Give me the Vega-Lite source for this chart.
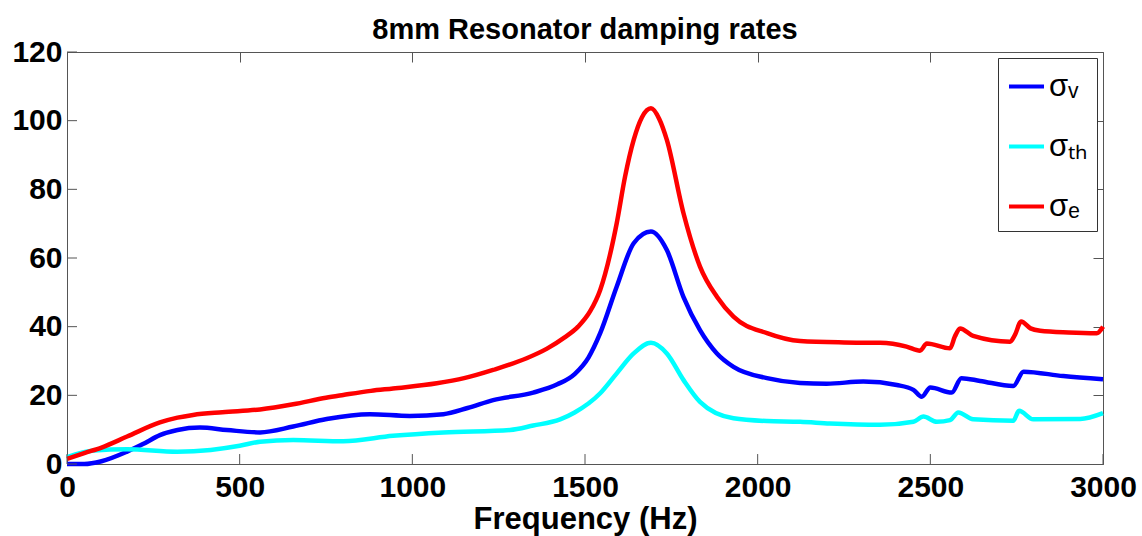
{
  "$schema": "https://vega.github.io/schema/vega-lite/v6.json",
  "width": 1036,
  "height": 412,
  "autosize": {"type": "none"},
  "padding": {"left": 67, "top": 52, "right": 39, "bottom": 72},
  "background": "white",
  "title": {"text": "8mm Resonator damping rates", "fontSize": 29, "font": "Liberation Sans", "fontWeight": "bold", "color": "black", "offset": -8, "anchor": "middle", "frame": "group"},
  "config": {
    "view": {"stroke": "#555", "strokeWidth": 1},
    "axis": {"labelFont": "Liberation Sans", "labelFontWeight": "bold", "labelFontSize": 30, "labelColor": "black", "titleFont": "Liberation Sans", "titleFontWeight": "bold", "titleFontSize": 31, "titleColor": "black", "domainColor": "#555", "tickColor": "#555", "tickWidth": 1, "grid": false}
  },
  "datasets": {
    "curves": [
    {"f": 0, "s": "σᵥ", "v": 0}, {"f": 50, "s": "σᵥ", "v": 0}, {"f": 100, "s": "σᵥ", "v": 0.8}, {"f": 174, "s": "σᵥ", "v": 3.6}, {"f": 220, "s": "σᵥ", "v": 5.8}, {"f": 269, "s": "σᵥ", "v": 8.4}, {"f": 320, "s": "σᵥ", "v": 9.9}, {"f": 385, "s": "σᵥ", "v": 10.6}, {"f": 463, "s": "σᵥ", "v": 9.9}, {"f": 559, "s": "σᵥ", "v": 9.2}, {"f": 655, "s": "σᵥ", "v": 10.9}, {"f": 752, "s": "σᵥ", "v": 13.1}, {"f": 877, "s": "σᵥ", "v": 14.5}, {"f": 993, "s": "σᵥ", "v": 14.0}, {"f": 1090, "s": "σᵥ", "v": 14.5}, {"f": 1160, "s": "σᵥ", "v": 16.3}, {"f": 1234, "s": "σᵥ", "v": 18.6}, {"f": 1350, "s": "σᵥ", "v": 20.8}, {"f": 1420, "s": "σᵥ", "v": 23.2}, {"f": 1470, "s": "σᵥ", "v": 26.2}, {"f": 1510, "s": "σᵥ", "v": 31.0}, {"f": 1544, "s": "σᵥ", "v": 38.1}, {"f": 1592, "s": "σᵥ", "v": 51.7}, {"f": 1641, "s": "σᵥ", "v": 64.3}, {"f": 1691, "s": "σᵥ", "v": 67.7}, {"f": 1737, "s": "σᵥ", "v": 62.3}, {"f": 1785, "s": "σᵥ", "v": 48.7}, {"f": 1833, "s": "σᵥ", "v": 39.0}, {"f": 1882, "s": "σᵥ", "v": 32.2}, {"f": 1930, "s": "σᵥ", "v": 28.3}, {"f": 2027, "s": "σᵥ", "v": 25.0}, {"f": 2123, "s": "σᵥ", "v": 23.6}, {"f": 2200, "s": "σᵥ", "v": 23.4}, {"f": 2306, "s": "σᵥ", "v": 24.0}, {"f": 2403, "s": "σᵥ", "v": 23.0}, {"f": 2451, "s": "σᵥ", "v": 21.6}, {"f": 2475, "s": "σᵥ", "v": 19.6}, {"f": 2500, "s": "σᵥ", "v": 22.3}, {"f": 2562, "s": "σᵥ", "v": 20.8}, {"f": 2590, "s": "σᵥ", "v": 25.0}, {"f": 2644, "s": "σᵥ", "v": 24.2}, {"f": 2740, "s": "σᵥ", "v": 22.7}, {"f": 2770, "s": "σᵥ", "v": 26.9}, {"f": 2885, "s": "σᵥ", "v": 25.6}, {"f": 3000, "s": "σᵥ", "v": 24.7},
    {"f": 0, "s": "σₜₕ", "v": 2.0}, {"f": 77, "s": "σₜₕ", "v": 3.9}, {"f": 174, "s": "σₜₕ", "v": 4.3}, {"f": 319, "s": "σₜₕ", "v": 3.6}, {"f": 416, "s": "σₜₕ", "v": 4.1}, {"f": 500, "s": "σₜₕ", "v": 5.3}, {"f": 559, "s": "σₜₕ", "v": 6.5}, {"f": 655, "s": "σₜₕ", "v": 7.0}, {"f": 800, "s": "σₜₕ", "v": 6.6}, {"f": 944, "s": "σₜₕ", "v": 8.2}, {"f": 1090, "s": "σₜₕ", "v": 9.2}, {"f": 1283, "s": "σₜₕ", "v": 9.9}, {"f": 1350, "s": "σₜₕ", "v": 11.2}, {"f": 1428, "s": "σₜₕ", "v": 13.0}, {"f": 1470, "s": "σₜₕ", "v": 15.0}, {"f": 1544, "s": "σₜₕ", "v": 20.6}, {"f": 1592, "s": "σₜₕ", "v": 26.4}, {"f": 1641, "s": "σₜₕ", "v": 32.2}, {"f": 1691, "s": "σₜₕ", "v": 35.3}, {"f": 1737, "s": "σₜₕ", "v": 32.2}, {"f": 1785, "s": "σₜₕ", "v": 24.5}, {"f": 1833, "s": "σₜₕ", "v": 18.1}, {"f": 1930, "s": "σₜₕ", "v": 13.3}, {"f": 2027, "s": "σₜₕ", "v": 12.5}, {"f": 2123, "s": "σₜₕ", "v": 12.3}, {"f": 2209, "s": "σₜₕ", "v": 11.8}, {"f": 2354, "s": "σₜₕ", "v": 11.4}, {"f": 2451, "s": "σₜₕ", "v": 12.3}, {"f": 2480, "s": "σₜₕ", "v": 13.8}, {"f": 2519, "s": "σₜₕ", "v": 12.3}, {"f": 2557, "s": "σₜₕ", "v": 12.8}, {"f": 2581, "s": "σₜₕ", "v": 15.0}, {"f": 2624, "s": "σₜₕ", "v": 13.0}, {"f": 2740, "s": "σₜₕ", "v": 12.6}, {"f": 2757, "s": "σₜₕ", "v": 15.5}, {"f": 2798, "s": "σₜₕ", "v": 13.0}, {"f": 2934, "s": "σₜₕ", "v": 13.1}, {"f": 3000, "s": "σₜₕ", "v": 14.8},
    {"f": 0, "s": "σₑ", "v": 1.5}, {"f": 50, "s": "σₑ", "v": 3.2}, {"f": 100, "s": "σₑ", "v": 4.8}, {"f": 174, "s": "σₑ", "v": 8.0}, {"f": 269, "s": "σₑ", "v": 12.1}, {"f": 320, "s": "σₑ", "v": 13.5}, {"f": 365, "s": "σₑ", "v": 14.3}, {"f": 450, "s": "σₑ", "v": 15.1}, {"f": 559, "s": "σₑ", "v": 15.9}, {"f": 655, "s": "σₑ", "v": 17.4}, {"f": 750, "s": "σₑ", "v": 19.3}, {"f": 800, "s": "σₑ", "v": 20.1}, {"f": 880, "s": "σₑ", "v": 21.3}, {"f": 944, "s": "σₑ", "v": 22.0}, {"f": 1071, "s": "σₑ", "v": 23.5}, {"f": 1150, "s": "σₑ", "v": 25.0}, {"f": 1234, "s": "σₑ", "v": 27.4}, {"f": 1331, "s": "σₑ", "v": 30.8}, {"f": 1390, "s": "σₑ", "v": 33.6}, {"f": 1440, "s": "σₑ", "v": 36.8}, {"f": 1480, "s": "σₑ", "v": 40.0}, {"f": 1515, "s": "σₑ", "v": 44.5}, {"f": 1544, "s": "σₑ", "v": 50.7}, {"f": 1592, "s": "σₑ", "v": 70.2}, {"f": 1616, "s": "σₑ", "v": 83.7}, {"f": 1641, "s": "σₑ", "v": 94.4}, {"f": 1665, "s": "σₑ", "v": 101.0}, {"f": 1691, "s": "σₑ", "v": 103.6}, {"f": 1715, "s": "σₑ", "v": 100.5}, {"f": 1737, "s": "σₑ", "v": 94.4}, {"f": 1785, "s": "σₑ", "v": 73.1}, {"f": 1833, "s": "σₑ", "v": 57.5}, {"f": 1882, "s": "σₑ", "v": 48.7}, {"f": 1930, "s": "σₑ", "v": 42.9}, {"f": 2027, "s": "σₑ", "v": 38.1}, {"f": 2123, "s": "σₑ", "v": 35.8}, {"f": 2250, "s": "σₑ", "v": 35.4}, {"f": 2354, "s": "σₑ", "v": 35.3}, {"f": 2431, "s": "σₑ", "v": 34.2}, {"f": 2470, "s": "σₑ", "v": 33.0}, {"f": 2490, "s": "σₑ", "v": 35.1}, {"f": 2557, "s": "σₑ", "v": 33.7}, {"f": 2571, "s": "σₑ", "v": 37.1}, {"f": 2586, "s": "σₑ", "v": 39.5}, {"f": 2624, "s": "σₑ", "v": 37.3}, {"f": 2731, "s": "σₑ", "v": 35.6}, {"f": 2745, "s": "σₑ", "v": 37.6}, {"f": 2763, "s": "σₑ", "v": 41.5}, {"f": 2790, "s": "σₑ", "v": 39.5}, {"f": 2818, "s": "σₑ", "v": 38.8}, {"f": 2900, "s": "σₑ", "v": 38.3}, {"f": 2982, "s": "σₑ", "v": 38.1}, {"f": 3000, "s": "σₑ", "v": 40.0}
    ],
    "xticks": [{"t": 0}, {"t": 500}, {"t": 1000}, {"t": 1500}, {"t": 2000}, {"t": 2500}, {"t": 3000}],
    "yticks": [{"t": 0}, {"t": 20}, {"t": 40}, {"t": 60}, {"t": 80}, {"t": 100}, {"t": 120}]
  },
  "layer": [
    {
      "data": {"name": "curves"},
      "mark": {"type": "line", "strokeWidth": 4.5, "interpolate": "monotone"},
      "encoding": {
        "x": {"field": "f", "type": "quantitative", "scale": {"domain": [0, 3000], "nice": false}, "axis": {"orient": "bottom", "values": [0, 500, 1000, 1500, 2000, 2500, 3000], "format": "d", "title": "Frequency (Hz)", "ticks": false, "labelPadding": 8, "titlePadding": 2, "labelFlush": false}},
        "y": {"field": "v", "type": "quantitative", "scale": {"domain": [0, 120], "nice": false}, "axis": {"orient": "left", "values": [0, 20, 40, 60, 80, 100, 120], "title": null, "ticks": false, "labelPadding": 5}},
        "color": {"field": "s", "type": "nominal", "scale": {"domain": ["σᵥ", "σₜₕ", "σₑ"], "range": ["#0000ff", "#00ffff", "#ff0000"]}, "sort": null,
          "legend": {"title": null, "orient": "top-right", "offset": 6, "strokeColor": "#333", "fillColor": "white", "padding": 9, "symbolType": "stroke", "symbolStrokeWidth": 4, "symbolSize": 1225, "labelFontSize": 31, "labelFont": "Liberation Sans", "labelColor": "black", "rowPadding": 25, "labelOffset": 3}}
      }
    },
    {
      "data": {"name": "curves"},
      "mark": {"type": "line", "opacity": 0},
      "encoding": {
        "x": {"field": "f", "type": "quantitative", "axis": {"orient": "top", "tickSize": -10, "values": [0, 500, 1000, 1500, 2000, 2500, 3000], "labels": false, "title": null, "domain": false}},
        "y": {"field": "v", "type": "quantitative", "axis": {"orient": "right", "tickSize": -10, "values": [0, 20, 40, 60, 80, 100, 120], "labels": false, "title": null, "domain": false}}
      }
    },
    {
      "data": {"name": "xticks"},
      "mark": {"type": "rule", "color": "#555", "strokeWidth": 1},
      "encoding": {
        "x": {"field": "t", "type": "quantitative", "axis": null},
        "y": {"datum": 0, "type": "quantitative", "axis": null},
        "y2": {"datum": 2.9}
      }
    },
    {
      "data": {"name": "yticks"},
      "mark": {"type": "rule", "color": "#555", "strokeWidth": 1},
      "encoding": {
        "y": {"field": "t", "type": "quantitative", "axis": null},
        "x": {"datum": 0, "type": "quantitative", "axis": null},
        "x2": {"datum": 29}
      }
    }
  ],
  "resolve": {"axis": {"x": "independent", "y": "independent"}}
}
